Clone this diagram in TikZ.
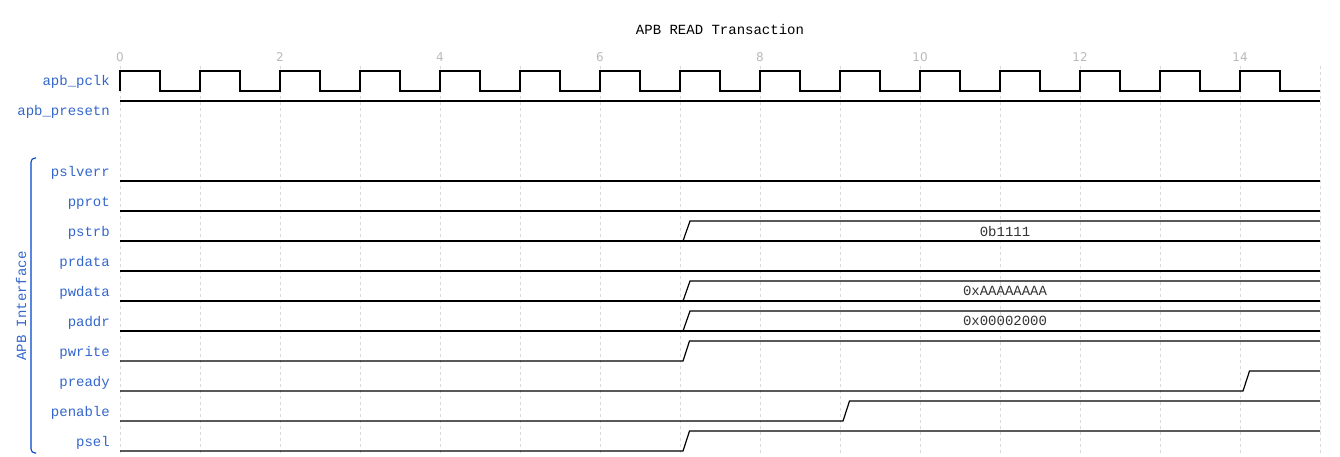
\documentclass[tikz,border=0pt]{standalone}
\usepackage{fontspec}
\setmonofont{Liberation Mono}
\newfontfamily\tickfont{DejaVu Sans}
\definecolor{siglabel}{RGB}{51,102,204}
\definecolor{bracecol}{RGB}{0,68,204}
\definecolor{gridcol}{RGB}{218,218,218}
\definecolor{tickcol}{RGB}{185,185,185}
\definecolor{bustext}{RGB}{51,51,51}
\tikzset{
  wave/.style={line width=1.2pt,black},
  gridline/.style={gridcol,line width=0.8pt,dash pattern=on 3pt off 3pt},
  sig/.style={anchor=east,inner sep=0pt,text=siglabel,font=\ttfamily\fontsize{14}{14}\selectfont},
  bus/.style={inner sep=0pt,text=bustext,font=\ttfamily\fontsize{14}{14}\selectfont},
  tick/.style={inner sep=0pt,text=tickcol,font=\tickfont\fontsize{12}{12}\selectfont}
}

\begin{document}
\begin{tikzpicture}[x=1pt,y=-1pt]
        \useasboundingbox (0,0) rectangle (1340,456);
        % Time grid and axis numbers
        \foreach \k in {0,...,15}
          \draw[gridline] ({120+80*\k},66) -- ({120+80*\k},456);
        \foreach \k in {0,2,...,14}
          \node[tick] (t\k) at ({120+80*\k},57) {\k};
        \node[bus,text=black] (title) at (720,29) {APB READ Transaction};
        % Clock and reset
        \node[sig] (pclk) at (110,82) {apb\_pclk};
        \node[sig] (presetn) at (110,112) {apb\_presetn};
        \draw[wave] (120,91) \foreach \k in {0,...,14} {
            -- ++(0,-20) -- ++(40,0) -- ++(0,20) -- ++(40,0)};
        % APB bus signals
        \foreach \name/\y in {pslverr/173,pprot/203,pstrb/233,prdata/263,pwdata/293,
                              paddr/323,pwrite/353,pready/383,penable/413,psel/443}
          \node[sig] (\name) at (110,\y) {\name};
        \draw[rounded corners=4pt,bracecol,line width=1.1pt] (36,158) -- (31,158) -- (31,453) -- (36,453);
        \node[sig,anchor=center,rotate=90] (grp) at (21,306) {APB Interface};
        % Constant lines
        \foreach \y in {101,181,211,271}
          \draw[wave] (120,\y) -- (1320,\y);
        % Multi-bit values
        \foreach \y/\val in {241/0b1111,301/0xAAAAAAAA,331/0x00002000} {
          \draw[wave] (120,\y) -- (1320,\y);
          \draw[wave] (683,\y) -- (690,\y-20) -- (1320,\y-20);
          \node[bus] (v\y) at (1005,\y-10) {\val};
        }
        % Single-bit rising edges
        \foreach \y/\t in {361/7,391/14,421/9,451/7}
          \draw[wave] (120,\y) -- ({123+80*\t},\y) -- ({129.5+80*\t},\y-20) -- (1320,\y-20);
    \end{tikzpicture}
\end{document}
